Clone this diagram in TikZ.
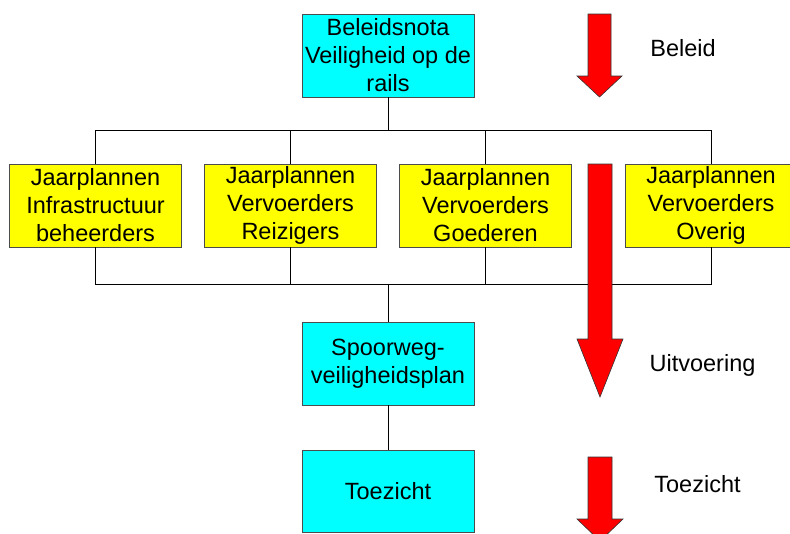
\documentclass[tikz,border=0pt]{standalone}
\usepackage{fontspec}
\setmainfont{Liberation Sans}
\definecolor{boxcyan}{RGB}{0,255,255}
\definecolor{boxyellow}{RGB}{255,255,0}
\definecolor{arrowred}{RGB}{255,0,0}
\begin{document}
\begin{tikzpicture}[x=1pt,y=-1pt,
  txt/.style={font=\fontsize{23.5}{28}\selectfont, align=center, inner sep=0pt},
  box/.style={txt, draw=black!70, line width=0.8pt, minimum width=172pt, minimum height=83pt},
  cyanbox/.style={box, fill=boxcyan},
  yelbox/.style={box, fill=boxyellow},
  conn/.style={draw=black, line width=0.8pt},
  redarrow/.style={fill=arrowred, draw=black!80, line width=0.6pt, line join=miter},
  lbl/.style={txt}]
\useasboundingbox (0,0) rectangle (790,533);

% nodes
\node[cyanbox] (top) at (388,55.5) {Beleidsnota\\Veiligheid op de\\rails};
\node[yelbox] (j1) at (95.5,205.5) {Jaarplannen\\Infrastructuur\\beheerders};
\node[yelbox] (j2) at (290.5,205.5) {Jaarplannen\\Vervoerders\\Reizigers};
\node[yelbox] (j3) at (485.5,205.5) {Jaarplannen\\Vervoerders\\Goederen};
\node[yelbox] (j4) at (711,205.5) {Jaarplannen\\Vervoerders\\Overig};
\node[cyanbox] (sp) at (388,363.5) {Spoorweg-\\veiligheidsplan};
\node[cyanbox, minimum height=82pt] (tz) at (388,491) {Toezicht};

% bus coordinates
\coordinate (bt) at (0,130);
\coordinate (bb) at (0,284);

% connectors top
\draw[conn] (top.south) -- (top.south |- bt);
\draw[conn] (j1.north) -- (j1.north |- bt) -- (j4.north |- bt) -- (j4.north);
\draw[conn] (j2.north) -- (j2.north |- bt);
\draw[conn] (j3.north) -- (j3.north |- bt);
% connectors bottom
\draw[conn] (j1.south) -- (j1.south |- bb) -- (j4.south |- bb) -- (j4.south);
\draw[conn] (j2.south) -- (j2.south |- bb);
\draw[conn] (j3.south) -- (j3.south |- bb);
\draw[conn] (sp.north |- bb) -- (sp.north);
\draw[conn] (sp.south) -- (tz.north);

% red arrows
\draw[redarrow] (588,14) -- (611,14) -- (611,76) -- (622,76) -- (599.5,97) -- (577,76) -- (588,76) -- cycle;
\draw[redarrow] (588,164) -- (612,164) -- (612,339) -- (623,339) -- (600,397) -- (577,339) -- (588,339) -- cycle;
\draw[redarrow] (588,457) -- (612,457) -- (612,519) -- (623,519) -- (600,541) -- (577,519) -- (588,519) -- cycle;

% labels
\node[lbl] (l1) at (683,48) {Beleid};
\node[lbl] (l2) at (702.5,365) {Uitvoering};
\node[lbl] (l3) at (697.5,484) {Toezicht};
\end{tikzpicture}
\end{document}
